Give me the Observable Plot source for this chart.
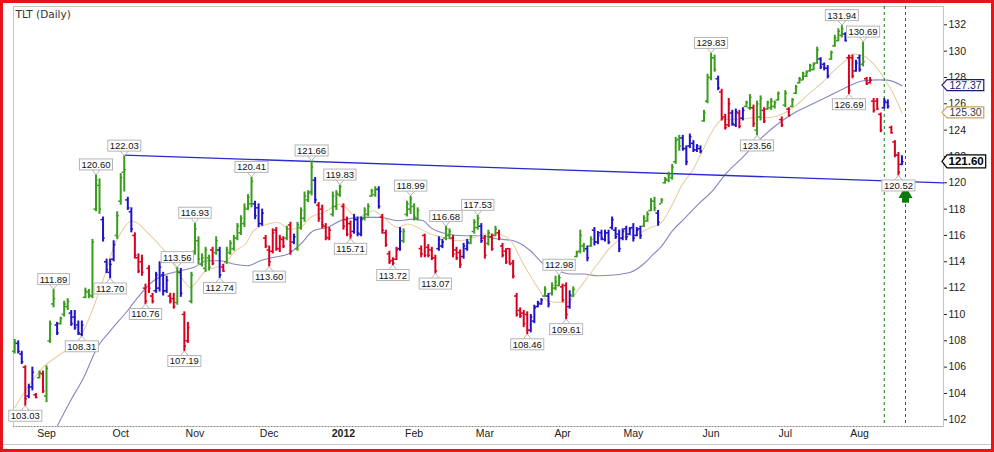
<!DOCTYPE html>
<html><head><meta charset="utf-8">
<script src="https://cdn.jsdelivr.net/npm/d3@7"></script>
<script src="https://cdn.jsdelivr.net/npm/@observablehq/plot@0.6"></script>
<style>
html,body{margin:0;padding:0;background:#fff;}
#wrap{position:relative;width:994px;height:452px;overflow:hidden;background:#fff;}
#border{position:absolute;left:0;top:0;width:994px;height:452px;box-sizing:border-box;border:3px solid #e8141b;pointer-events:none;}
#toolbar{position:absolute;left:3px;right:3px;top:444px;height:1px;background:#c8c8c8;}
</style></head><body>
<div id="wrap"><div id="chart"></div><div id="toolbar"></div><div id="border"></div></div>
<script>
// ---- data (trading-day index 0 = 19 Aug 2011) ----
const high = [
108.1,108.0,107.2,106.1,104.7,106.0,104.0,105.7,105.7,106.1,
109.5,111.89,109.4,109.8,111.0,111.2,110.3,110.3,109.5,109.5,
112.0,111.9,115.7,120.6,120.3,117.4,114.2,114.2,115.6,117.8,
120.7,122.03,118.9,118.1,116.2,114.6,114.5,112.3,113.7,111.6,
113.2,114.0,113.2,112.9,111.6,111.6,113.56,113.5,110.2,109.4,
113.2,116.93,115.9,114.6,115.1,114.5,115.1,115.9,115.1,113.8,
115.1,115.6,116.0,116.9,117.5,118.4,119.1,120.41,118.6,118.4,
118.0,116.0,115.2,116.5,116.6,116.0,115.9,116.7,117.0,116.1,
117.0,118.1,119.3,119.4,121.66,120.4,118.5,118.3,116.9,116.6,
119.3,119.4,119.83,118.4,117.4,117.1,117.6,117.4,117.4,118.1,
118.4,119.5,119.7,119.7,117.6,116.4,114.8,114.3,115.1,116.6,
116.5,118.6,118.99,118.4,118.1,115.2,116.1,115.3,115.1,114.5,
115.9,115.7,116.68,116.5,116.0,115.1,114.9,115.4,115.7,116.0,
117.2,117.53,116.9,116.0,116.4,116.1,116.7,116.4,115.4,115.0,
115.0,114.1,111.6,110.5,110.3,110.2,110.0,110.7,111.0,111.2,
112.1,111.6,112.4,112.9,112.98,112.3,112.4,111.8,112.1,114.8,
116.4,115.4,115.2,115.9,116.6,116.3,116.4,116.4,116.4,117.4,
116.6,116.4,116.5,116.7,116.6,116.9,116.6,116.7,117.5,117.8,
118.8,118.9,117.9,118.8,120.4,120.8,121.4,123.45,123.6,123.6,
122.8,123.7,123.2,122.9,122.8,125.5,128.25,129.83,129.7,128.1,
127.1,125.2,126.4,125.5,125.6,125.5,125.7,126.2,126.7,125.9,
126.2,126.6,125.7,126.2,126.4,126.2,126.9,125.0,127.0,125.7,
126.4,127.4,128.0,128.4,128.5,129.0,129.1,130.3,129.5,129.1,
128.9,130.0,131.2,131.7,131.94,131.4,129.7,129.7,129.3,129.7,
130.69,128.0,128.0,126.4,126.4,125.3,126.4,126.3,124.3,123.2,
122.3,122.05];
const low = [
107.0,107.0,106.2,103.03,103.6,104.2,103.6,105.1,104.0,103.3,
107.8,110.5,108.4,109.2,109.8,110.3,109.1,108.8,108.4,108.31,
111.2,111.2,111.2,117.8,117.6,115.5,113.1,112.7,114.0,115.7,
118.3,119.3,117.9,116.2,114.2,113.1,112.9,110.76,111.6,110.8,
111.6,111.7,111.4,111.6,110.8,110.4,110.7,111.3,107.19,107.8,
110.8,114.5,113.8,113.6,113.2,113.3,113.7,114.5,112.74,113.2,
113.8,114.5,114.8,115.6,116.0,116.6,117.9,118.1,117.2,116.6,
116.7,115.0,113.6,114.6,114.8,114.7,115.0,115.6,114.5,115.3,
114.8,116.4,117.0,118.5,119.0,118.4,117.0,116.5,115.6,115.6,
117.4,117.9,118.9,116.4,115.9,115.71,116.1,115.9,115.9,117.1,
117.4,118.9,118.9,118.0,116.1,115.1,113.8,113.72,114.1,114.8,
115.4,117.4,117.6,117.1,117.1,114.3,114.3,114.3,114.1,113.07,
114.8,115.0,115.6,115.7,114.3,114.1,113.5,114.2,114.8,115.3,
116.1,116.4,115.4,114.2,115.2,114.8,115.9,115.6,114.3,113.8,
113.8,112.7,109.8,109.7,109.0,108.46,108.6,109.3,110.5,110.7,
111.3,110.5,111.4,111.8,112.1,110.9,109.61,110.4,111.3,114.3,
114.6,114.7,114.0,115.1,115.2,115.3,115.6,115.5,115.3,116.4,
115.7,114.7,115.6,115.6,116.0,115.5,115.9,115.7,116.6,117.0,
117.8,117.8,116.7,118.4,119.9,120.0,120.2,121.4,122.4,122.4,
121.3,122.6,122.3,122.3,122.2,124.6,126.0,127.75,128.4,127.0,
124.7,124.0,124.2,124.3,124.2,124.1,124.7,125.7,125.5,124.2,
123.56,124.7,124.5,125.5,125.5,125.6,126.2,124.2,125.7,125.0,
125.7,126.7,127.5,127.75,128.0,128.4,128.5,129.0,128.6,128.5,
127.9,129.3,130.3,130.7,131.0,130.7,126.69,127.9,128.4,128.4,
128.8,127.4,127.5,125.3,125.5,123.8,125.6,125.6,123.7,121.9,
120.52,121.3];
const open = [
107.2,107.8,107.0,106.0,103.8,104.5,103.9,105.2,105.5,103.8,
108.0,110.8,109.2,109.3,110.0,110.6,110.1,109.8,109.2,108.5,
111.3,111.7,111.4,118.0,119.8,117.2,114.0,113.2,114.2,116.0,
118.6,120.8,118.7,117.8,116.0,114.3,114.0,112.0,113.5,111.4,
111.8,112.0,113.0,111.8,111.4,111.2,110.9,113.2,110.0,108.0,
111.0,114.8,115.6,113.8,113.5,114.3,114.9,114.7,114.9,113.6,
114.0,114.7,115.0,115.8,116.2,116.9,118.0,118.4,118.4,118.1,
116.9,115.8,114.9,114.8,116.4,115.0,115.7,115.8,116.8,115.5,
115.0,116.6,117.3,118.7,119.3,120.2,118.3,118.0,116.7,115.8,
117.6,118.2,119.1,118.2,117.2,116.9,116.3,117.2,116.1,117.3,
117.6,119.0,119.1,119.5,117.4,116.2,114.6,114.1,114.2,115.0,
115.6,117.6,118.0,118.2,117.3,115.0,116.0,115.1,114.9,114.3,
115.0,115.2,115.8,116.0,115.8,114.9,114.7,114.4,115.0,115.4,
116.3,116.6,116.7,115.8,115.4,115.9,116.0,116.2,115.2,114.8,
115.0,113.9,111.4,110.3,110.1,110.0,108.8,109.5,110.6,110.8,
111.4,111.4,111.6,112.0,112.2,112.1,112.2,110.6,111.4,114.4,
114.8,115.2,115.0,115.2,116.4,115.5,116.2,115.7,116.2,116.6,
116.4,116.1,115.8,116.5,116.1,116.6,116.0,116.5,116.7,117.1,
117.9,118.6,117.7,118.4,120.0,120.2,120.4,121.6,123.3,123.4,
122.6,122.8,123.0,122.5,122.6,124.7,126.2,128.0,129.5,127.9,
126.9,125.0,124.4,125.3,124.4,125.3,124.9,125.8,125.7,125.7,
124.0,125.0,125.5,125.6,125.7,125.8,126.3,124.8,125.9,125.6,
125.8,126.8,127.6,127.8,128.1,128.5,128.6,129.1,129.4,129.0,
128.7,129.4,130.4,130.8,131.2,131.3,129.5,129.5,128.5,129.5,
129.0,127.9,127.6,126.2,126.2,125.2,125.7,126.1,124.2,123.1,
122.1,121.4];
const close = [
107.9,107.2,106.4,103.6,104.5,105.6,103.7,105.6,104.2,105.9,
109.3,111.2,108.6,109.7,110.8,111.0,109.3,109.0,108.6,109.2,
111.8,111.5,115.5,120.2,118.0,115.8,113.4,113.8,115.3,117.5,
120.4,121.0,118.1,116.5,114.5,113.3,113.2,111.0,112.0,111.0,
113.0,113.6,111.8,112.6,111.0,110.6,113.2,111.6,107.6,109.0,
113.0,116.5,114.2,114.3,114.9,113.6,113.9,115.6,113.0,113.3,
114.9,115.4,115.8,116.7,117.3,118.1,118.9,120.1,117.5,116.9,
117.7,115.2,114.0,116.2,115.0,115.8,115.2,116.5,114.8,115.9,
116.8,117.9,119.0,119.2,121.2,118.7,117.3,116.8,115.9,116.4,
119.0,119.2,119.7,116.7,116.1,116.0,117.3,116.2,117.2,117.9,
118.2,119.4,119.5,118.2,116.4,115.3,114.0,113.9,114.9,116.3,
116.3,118.4,118.8,117.4,117.9,114.6,114.5,114.5,114.3,113.3,
115.7,115.5,116.5,116.3,114.6,114.3,113.8,115.2,115.5,115.9,
117.0,117.3,115.6,114.5,116.2,115.0,116.5,115.8,114.5,114.0,
113.8,112.9,110.0,109.9,109.3,108.8,109.8,110.5,110.9,111.1,
111.9,110.8,112.2,112.5,112.8,111.1,110.0,111.5,111.9,114.7,
116.0,114.9,114.3,115.7,115.5,116.0,115.8,116.2,115.5,117.2,
115.9,115.0,116.3,115.9,116.5,115.8,116.4,116.0,117.3,117.6,
118.6,118.1,117.0,118.7,120.3,120.6,121.2,123.2,122.8,122.6,
121.6,123.5,122.5,122.8,122.4,125.3,128.0,129.5,128.6,127.2,
124.9,124.2,126.0,124.5,125.4,124.3,125.5,126.1,126.5,124.5,
126.0,126.4,124.7,126.1,126.2,126.1,126.8,124.4,126.8,125.1,
126.3,127.3,127.9,128.3,128.4,128.9,129.0,130.1,128.8,128.7,
128.1,129.9,131.0,131.5,131.7,130.8,127.0,128.1,129.1,128.6,
129.2,127.5,127.8,125.5,125.6,124.0,126.2,125.8,123.8,122.1,
120.8,121.6];
// Elder impulse colour per bar: g = green, r = red, b = blue
const impulse = (
"gbbrbbrgrg"+"ggbgggbbbb"+"gggggbbbbg"+"ggbbrrrrrr"+"bbbbrrgbrr"+
"ggggggrgbr"+"ggggggggbb"+"brrrrrrgrb"+"gggggbrrrr"+"gggrrrbbbg"+
"gggbrrrrrb"+"gggggrrrrr"+"bbggrrrbbg"+"ggbrgrgrrr"+"rrrrrrbbbb"+
"gbgggrrbgg"+"ggbgbbbbbb"+"bbbbbbbbgg"+"ggbggggggb"+"bbbbbggggb"+
"rrrbbrbggr"+"ggrggggrgr"+"ggggggggbb"+"bggggbrrbb"+"grrrrrbbrr"+"rb").split("");

// moving averages (bar index, value)
const maShortIdx = [0,3,8,13,18,21.5,25,28,31,33,35,37,40.7,43.5,45.5,47.8,49.7,51.7,54,56.8,59.6,62.5,65.3,67.6,71.5,74.3,78,80.9,83.7,87.4,92.2,97,101.5,104.3,108.3,111.1,114,117.6,121.3,125.3,129,132.6,136.6,140.3,143.9,147.9,150.7,153.6,156.4,159.2,162,164.9,168.5,172.2,176.2,179.9,182.7,186.1,188.9,191.7,194.6,197.4,200.2,205.9,209.6,213.2,217.2,220.9,224.6,228.5,232.2,235,237.3,240.1,243,245.8,248.6,251];
const maShortVal = [102.9,104.2,105.98,107.0,108.0,110.0,112.6,115.1,116.6,117.1,116.9,116.36,115.35,114.46,113.57,112.56,112.05,112.56,113.32,113.57,113.95,114.84,115.35,116.36,116.86,116.99,116.48,116.61,117.37,117.75,118.38,117.37,117.88,117.37,116.61,116.87,116.61,116.11,115.85,115.6,115.73,116.11,116.11,115.6,113.83,112.06,111.04,110.92,110.92,111.8,112.81,113.83,115.09,115.85,116.11,116.61,116.9,118.38,119.9,120.91,122.43,123.95,124.8,124.84,124.96,124.96,125.22,125.85,126.74,127.62,128.63,129.27,129.77,129.65,129.01,128.0,126.74,125.30];
const maLongIdx = [12.1,15.8,19.5,23.4,27.1,31.9,35.6,39.3,43.2,46.9,50.6,54.5,58.2,61.9,65.9,69.5,73.2,77.2,80.9,84.5,88.5,93,98.7,103.5,108.3,112.8,115.6,117.6,122.4,127,131.8,136.6,141.1,145.9,149.6,153.6,157.2,160.9,164.9,169.4,174.2,177.9,180.7,182.7,186.1,189.8,193.4,197.4,201.1,205.9,210.4,215.2,220,224.6,229.4,234.2,240.1,244.1,246.9,251];
const maLongVal = [101.55,103.45,105.2,107.5,108.77,110.28,111.55,112.56,113.07,113.32,113.57,114.08,114.08,113.83,113.7,114.08,114.33,114.58,115.35,116.36,116.61,117.2,117.37,117.37,117.12,117.24,117.12,116.61,116.11,115.98,115.98,115.73,115.6,114.84,113.83,113.32,113.07,113.07,112.94,113.0,113.2,113.83,114.58,115.09,116.36,117.37,118.38,119.39,120.66,121.93,123.19,124.33,125.22,125.85,126.48,127.11,127.75,127.82,127.8,127.37];

// trend line (bar index, value)
const trendIdx = [31, 262.75];
const trendVal = [122.1, 120.0];

// annotated highs / lows
const labelIdx = [3,11,19,23,27,31,37,46,48,51,58,67,72,84,92,95,107,112,119,122,131,145,154,156,197,210,234,236,240,250];
const labelVal = [103.03,111.89,108.31,120.60,112.70,122.03,110.76,113.56,107.19,116.93,112.74,120.41,113.60,121.66,119.83,115.71,113.72,118.99,113.07,116.68,117.53,108.46,112.98,109.61,129.83,123.56,131.94,126.69,130.69,120.52];
const labelSide = ["l","h","l","h","l","h","l","h","l","h","l","h","l","h","h","l","l","h","l","h","h","l","h","l","h","l","h","l","h","l"];

// markers
const signalIdx = [246, 252];
const arrowIdx = 252, arrowBase = 118.45, arrowTip = 119.15;

// right-edge value tags
const tagVal = [127.37, 125.30, 121.60];
const tagKind = ["ma50", "ma20", "last"];

// axes
const monthIdx = [9,30,51,72,93,113,133,155,175,197,218,239];
const monthLab = ["Sep","Oct","Nov","Dec","2012","Feb","Mar","Apr","May","Jun","Jul","Aug"];
const yTicks = [102,104,106,108,110,112,114,116,118,120,122,124,126,128,130,132];
const xDomain = [-0.335, 262.75];
const yDomain = [101.49, 133.39];

// ---- build ----
const colorOf = {g: "#3a9c1c", r: "#d8001e", b: "#2012c8"};
const bars = high.map((h, i) => ({i, h, l: low[i], o: open[i], c: close[i], k: impulse[i]}));
const maShort = maShortIdx.map((i, k) => ({i, v: maShortVal[k]}));
const maLong = maLongIdx.map((i, k) => ({i, v: maLongVal[k]}));
const trend = trendIdx.map((i, k) => ({i, v: trendVal[k]}));
const labels = labelIdx.map((i, k) => ({i, v: labelVal[k], side: labelSide[k]}));
const tags = tagVal.map((v, k) => ({v, kind: tagKind[k]}));
const arrow = [{i: arrowIdx, v0: arrowBase, v1: arrowTip}];

const lblFont = "Liberation Sans, Arial, sans-serif";

const chart = Plot.plot({
  width: 994, height: 452,
  marginLeft: 13, marginRight: 51, marginTop: 6, marginBottom: 26,
  style: {fontFamily: lblFont, fontSize: "10.5px", color: "#222", background: "white"},
  x: {type: "linear", domain: xDomain, ticks: monthIdx, tickFormat: d => monthLab[monthIdx.indexOf(d)], tickSize: 0, tickPadding: 3, label: null},
  y: {type: "linear", domain: yDomain, axis: "right", ticks: yTicks, tickSize: 3, tickPadding: 2, tickFormat: d => String(d), label: null},
  marks: [
    Plot.frame({stroke: "#c4c4c4"}),
    Plot.ruleY([yDomain[0]], {stroke: "#8a8a8a", strokeDasharray: "1,2"}),
    Plot.line(maLong, {x: "i", y: "v", stroke: "#8587c4", strokeWidth: 1.1, curve: "monotone-x", clip: true}),
    Plot.line(maShort, {x: "i", y: "v", stroke: "#e9cfa3", strokeWidth: 1.1, curve: "monotone-x", clip: true}),
    Plot.line(trend, {x: "i", y: "v", stroke: "#2a2ad2", strokeWidth: 1.3}),
    Plot.ruleX(signalIdx, {stroke: "#137d13", strokeWidth: 1, strokeDasharray: "3,3"}),
    Plot.ruleX(bars, {x: "i", y1: "l", y2: "h", stroke: d => colorOf[d.k], strokeWidth: 2}),
    Plot.ruleY(bars, {y: "o", x1: d => d.i - 0.6, x2: "i", stroke: d => colorOf[d.k], strokeWidth: 1.5}),
    Plot.ruleY(bars, {y: "c", x1: "i", x2: d => d.i + 0.6, stroke: d => colorOf[d.k], strokeWidth: 1.5}),
    Plot.ruleX(arrow, {x: "i", y1: "v0", y2: "v1", stroke: "#0b7a0b", strokeWidth: 7}),
    Plot.dot(arrow, {x: "i", y: "v1", symbol: "triangle", r: 5.2, fill: "#0b7a0b", stroke: "none"}),
    Plot.text(labels.filter(d => d.side === "h"), {x: "i", y: "v", text: d => d.v.toFixed(2), dy: -10, lineAnchor: "middle", fontSize: 9.5, fontFamily: lblFont, fill: "#111"}),
    Plot.text(labels.filter(d => d.side === "l"), {x: "i", y: "v", text: d => d.v.toFixed(2), dy: 10, lineAnchor: "middle", fontSize: 9.5, fontFamily: lblFont, fill: "#111"}),
    Plot.text(tags.filter(d => d.kind !== "last"), {x: () => xDomain[1], y: "v", text: d => d.v.toFixed(2), dx: 6, textAnchor: "start", lineAnchor: "middle", fontSize: 10.5, fontFamily: lblFont, fill: d => d.kind === "ma50" ? "#1b1b6a" : "#3a3a3a"}),
    Plot.text(tags.filter(d => d.kind === "last"), {x: () => xDomain[1], y: "v", text: d => d.v.toFixed(2), dx: 5, textAnchor: "start", lineAnchor: "middle", fontSize: 11.5, fontWeight: "bold", fontFamily: lblFont, fill: "#000"}),
    Plot.text(["TLT (Daily)"], {frameAnchor: "top-left", dx: 2, dy: 4, lineAnchor: "top", textAnchor: "start", fontFamily: "DejaVu Sans, Verdana, sans-serif", fontSize: 10.5, fill: "#333"})
  ]
});
document.getElementById("chart").append(chart);

// ---- label boxes (decorations sized from the rendered text) ----
const NS = "http://www.w3.org/2000/svg";
const svgBox = chart.getBoundingClientRect();
function el(name, attrs, parent) {
  const e = document.createElementNS(NS, name);
  for (const k in attrs) e.setAttribute(k, attrs[k]);
  parent.appendChild(e);
  return e;
}
const sideOf = new Map(labelVal.map((v, k) => [v.toFixed(2), labelSide[k]]));
const tagStroke = new Map([[tagVal[0].toFixed(2), ["#1b1b6a", 5.5]], [tagVal[1].toFixed(2), ["#c9a35c", 5.5]], [tagVal[2].toFixed(2), ["#000", 6.5]]]);
const deco = document.createElementNS(NS, "g");
const allTexts = Array.from(chart.querySelectorAll("text"));
allTexts.forEach(t => {
  const s = t.textContent;
  if (!sideOf.has(s) && !tagStroke.has(s)) return;
  const g = t.parentNode;
  if (!g.__bg) {
    const bg = document.createElementNS(NS, "g");
    g.parentNode.insertBefore(bg, g);
    g.__bg = bg;
  }
  const bg = g.__bg;
  const r = t.getBoundingClientRect();
  const x = r.left - svgBox.left, y = r.top - svgBox.top;
  const cx = x + r.width / 2, cy = y + r.height / 2;
  if (sideOf.has(s)) {
    const top = cy - 5.5, bot = cy + 5.5;
    const d = sideOf.get(s) === "h"
      ? `M${cx - 4},${bot} L${cx},${bot + 4.5} L${cx + 4},${bot}`
      : `M${cx - 4},${top} L${cx},${top - 4.5} L${cx + 4},${top}`;
    el("path", {d, fill: "white", stroke: "#b5b5b5", "stroke-width": 1}, bg);
    el("rect", {x: x - 2, y: top, width: r.width + 4, height: 11, fill: "white", stroke: "#b5b5b5", "stroke-width": 1}, bg);
  } else {
    const [stroke, h] = tagStroke.get(s);
    const x0 = 942, x1 = x + r.width + 2;
    el("path", {d: `M${x0},${cy} L${x0 + 5},${cy - h} L${x1},${cy - h} L${x1},${cy + h} L${x0 + 5},${cy + h} Z`, fill: "white", stroke, "stroke-width": 1.2}, bg);
  }
});

// bold year label on the time axis
allTexts.forEach(t => { if (t.textContent === "2012") t.setAttribute("font-weight", "bold"); });
</script>
</body></html>
